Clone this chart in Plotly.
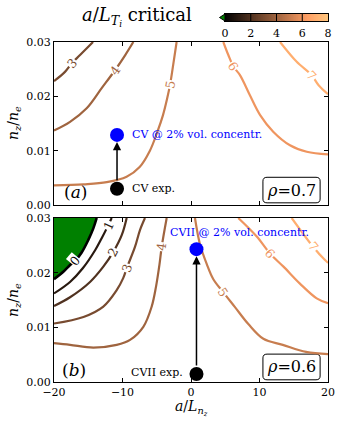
import numpy as np
import plotly.graph_objects as go

# ---------------- data ----------------
levels = [0, 1, 2, 3, 4, 5, 6, 7]

# panel (a), rho = 0.7 : contour lines of critical a/L_Ti
a3_x = [-20, -18.4, -17.4, -16.2, -14.3]
a3_y = [0.0228, 0.0245, 0.0261, 0.0276, 0.030]
a4_x = [-20, -17.66, -15.23, -13.04, -11.1, -9.6, -8.42]
a4_y = [0.0137, 0.0153, 0.0178, 0.0215, 0.0248, 0.0276, 0.030]
a5_x = [-20, -15.7, -12.3, -9.4, -7.5, -6.0, -4.9, -4.1, -3.5, -3.05, -2.6, -2.1]
a5_y = [0.0036, 0.0038, 0.0042, 0.0052, 0.0070, 0.0100, 0.0135, 0.0165, 0.0195, 0.0222, 0.0258, 0.030]
a6_x = [4.72, 5.45, 6.18, 7.15, 8.6, 10.07, 12.0, 14.45, 16.9, 20]
a6_y = [0.030, 0.0276, 0.0255, 0.0239, 0.0202, 0.0166, 0.0135, 0.011, 0.0098, 0.0093]
a7_x = [13.0, 15.4, 17.6, 18.6, 20]
a7_y = [0.030, 0.0264, 0.0239, 0.0221, 0.0204]

# panel (b), rho = 0.6
b0_x = [-20, -18.6, -17.66, -16.9, -15.96, -14.99, -14.26, -13.77]
b0_y = [0.0188, 0.0202, 0.0214, 0.0222, 0.0237, 0.026, 0.0281, 0.030]
b1_x = [-20, -17.66, -15.8, -14.0, -13.04, -12.07, -11.58]
b1_y = [0.0162, 0.0183, 0.0208, 0.0241, 0.0263, 0.0287, 0.030]
b2_x = [-20, -17.66, -14.74, -12.8, -11.34, -10.1, -9.39]
b2_y = [0.0139, 0.0155, 0.0183, 0.0211, 0.0238, 0.0269, 0.030]
b3_x = [-20, -15.7, -12.8, -10.85, -9.9, -9.39, -8.18, -7.45, -6.72]
b3_y = [0.0107, 0.0119, 0.0138, 0.0168, 0.019, 0.0208, 0.0247, 0.0278, 0.030]
b4_x = [-20, -17.66, -14.26, -10.85, -8.9, -6.96, -5.74, -5.1, -4.6, -4.28, -3.55]
b4_y = [0.0071, 0.0068, 0.0063, 0.0068, 0.0077, 0.0101, 0.0138, 0.0175, 0.0215, 0.0247, 0.030]
b5_x = [0.58, 1.31, 2.29, 3.26, 4.72, 6.42, 8.37, 10.56, 13.4, 16.8, 20]
b5_y = [0.030, 0.0252, 0.0216, 0.0188, 0.0164, 0.0137, 0.0106, 0.0079, 0.0068, 0.0055, 0.0051]
b6_x = [6.9, 9.6, 11.53, 13.5, 15.9, 18.35, 20]
b6_y = [0.030, 0.0266, 0.0235, 0.0211, 0.018, 0.0153, 0.0144]
b7_x = [14.7, 17.85, 19.56, 20]
b7_y = [0.030, 0.0247, 0.0223, 0.0218]

# contour label positions (level, x, y, angle)
a_labels = [(3, -17.4, 0.0261, -48), (4, -11.1, 0.0248, -55), (5, -3.05, 0.0222, -80),
            (6, 6.18, 0.0255, 58), (7, 17.6, 0.0239, 47)]
b_labels = [(0, -16.9, 0.0222, -50), (1, -12.07, 0.0287, -65), (2, -11.34, 0.0238, -62),
            (3, -9.39, 0.0208, -72), (4, -4.28, 0.0247, -82), (5, 4.72, 0.0164, 57),
            (6, 11.53, 0.0235, 48), (7, 17.85, 0.0247, 52)]

# impurity points
a_species = ["CV exp.", "CV @ 2% vol. concentr."]
a_pts_x = [-10.8, -10.8]
a_pts_y = [0.0030, 0.0129]
b_species = ["CVII exp.", "CVII @ 2% vol. concentr."]
b_pts_x = [0.8, 0.8]
b_pts_y = [0.00146, 0.0243]
rho_vals = [0.7, 0.6]

cbar_ticks = [0, 2, 4, 6, 8]
x_ticks = [-20, -10, 0, 10, 20]
y_ticks = [0, 0.01, 0.02, 0.03]

# ---------------- layout helpers (pixel -> paper) ----------------
W, H = 338, 421
ML, MR, MT, MB = 54, 10, 14, 39
PW, PH = W - ML - MR, H - MT - MB


def px(x):
    return (x - ML) / PW


def py(y):
    return (H - MB - y) / PH


def copper(v, vmax=8.0):
    t = v / vmax
    r = min(1.0, 1.25 * t)
    g = 0.7812 * t
    b = 0.4975 * t
    return "rgb(%d,%d,%d)" % (round(r * 255), round(g * 255), round(b * 255))


copper_scale = [[0, "rgb(0,0,0)"], [0.8, "rgb(255,159,101)"], [1, "rgb(255,199,127)"]]
SERIF = "DejaVu Serif"
fig = go.Figure()

# green region (below level 0) in panel b
fig.add_trace(go.Scatter(x=b0_x + [-20], y=b0_y + [0.030], mode="lines", fill="toself",
                         fillcolor="rgb(0,128,0)", line=dict(width=0), xaxis="x2", yaxis="y2",
                         hoverinfo="skip", showlegend=False))

a_lines = {3: (a3_x, a3_y), 4: (a4_x, a4_y), 5: (a5_x, a5_y), 6: (a6_x, a6_y), 7: (a7_x, a7_y)}
b_lines = {0: (b0_x, b0_y), 1: (b1_x, b1_y), 2: (b2_x, b2_y), 3: (b3_x, b3_y), 4: (b4_x, b4_y),
           5: (b5_x, b5_y), 6: (b6_x, b6_y), 7: (b7_x, b7_y)}

for lev, (xs, ys) in a_lines.items():
    fig.add_trace(go.Scatter(x=xs, y=ys, mode="lines", line=dict(color=copper(lev), width=2.2, shape="spline"),
                             xaxis="x", yaxis="y", showlegend=False, hoverinfo="skip"))
for lev, (xs, ys) in b_lines.items():
    fig.add_trace(go.Scatter(x=xs, y=ys, mode="lines",
                             line=dict(color=copper(lev), width=2.6 if lev == 0 else 2.2, shape="spline"),
                             xaxis="x2", yaxis="y2", showlegend=False, hoverinfo="skip"))

# impurity markers
for xs, ys, xa, ya in [(a_pts_x, a_pts_y, "x", "y"), (b_pts_x, b_pts_y, "x2", "y2")]:
    fig.add_trace(go.Scatter(x=xs, y=ys, mode="markers",
                             marker=dict(size=14, color=["black", "rgb(0,0,255)"], line=dict(width=0)),
                             xaxis=xa, yaxis=ya, showlegend=False, hoverinfo="skip"))

# colour bar drawn as a gradient strip on its own small axis
cb_vals = np.linspace(0, 8, 161)
fig.add_trace(go.Heatmap(x=cb_vals, y=[0], z=[cb_vals], zmin=0, zmax=8, colorscale=copper_scale,
                         showscale=False, xaxis="x3", yaxis="y3", hoverinfo="skip"))

annotations = []
for labels, xa, ya in [(a_labels, "x", "y"), (b_labels, "x2", "y2")]:
    for lev, lx, ly, ang in labels:
        annotations.append(dict(x=lx, y=ly, xref=xa, yref=ya, text=str(lev), showarrow=False,
                                textangle=ang, bgcolor="white", borderpad=0,
                                font=dict(family=SERIF, size=12.5,
                                          color="black" if lev == 0 else copper(lev))))

# arrows
for xs, ys, xa, ya in [(a_pts_x, a_pts_y, "x", "y"), (b_pts_x, b_pts_y, "x2", "y2")]:
    annotations.append(dict(x=xs[1], y=ys[1], ax=xs[0], ay=ys[0], xref=xa, yref=ya, axref=xa, ayref=ya,
                            text="", showarrow=True, arrowhead=2, arrowsize=1.1, arrowwidth=1.5,
                            arrowcolor="black", standoff=7, startstandoff=7))

P = dict(xref="paper", yref="paper", showarrow=False, xanchor="center", yanchor="middle")
annotations += [
    dict(x=-8.9, y=a_pts_y[0], xref="x", yref="y", text=a_species[0], showarrow=False, xanchor="left",
         font=dict(family=SERIF, size=11, color="black")),
    dict(x=-8.9, y=a_pts_y[1], xref="x", yref="y", text=a_species[1], showarrow=False, xanchor="left",
         font=dict(family=SERIF, size=11, color="rgb(0,0,255)")),
    dict(x=-0.9, y=b_pts_y[0], xref="x2", yref="y2", text=b_species[0], showarrow=False, xanchor="right",
         yshift=2, font=dict(family=SERIF, size=11, color="black")),
    dict(x=7.15, y=0.0273, xref="x2", yref="y2", text=b_species[1], showarrow=False, xanchor="center",
         font=dict(family=SERIF, size=11, color="rgb(0,0,255)")),
    dict(x=-16.8, y=0.0024, xref="x", yref="y", text="(<i>a</i>)", showarrow=False,
         font=dict(family=SERIF, size=17, color="black")),
    dict(x=-17.1, y=0.0022, xref="x2", yref="y2", text="(<i>b</i>)", showarrow=False,
         font=dict(family=SERIF, size=17, color="black")),
    dict(x=14.67, y=0.00276, xref="x", yref="y", text="<i>ρ</i>=%.1f" % rho_vals[0], showarrow=False,
         font=dict(family=SERIF, size=16, color="black")),
    dict(x=14.67, y=0.00276, xref="x2", yref="y2", text="<i>ρ</i>=%.1f" % rho_vals[1], showarrow=False,
         font=dict(family=SERIF, size=16, color="black")),
    dict(P, x=px(137), y=py(17), text="<i>a</i>/<i>L</i><sub><i>T<sub>i</sub></i></sub> critical",
         font=dict(family=SERIF, size=18, color="black")),
    dict(P, x=px(14), y=py(123), textangle=-90,
         text="<i>n<sub>z</sub></i>/<i>n<sub>e</sub></i>", font=dict(family=SERIF, size=14, color="black")),
    dict(P, x=px(14), y=py(300), textangle=-90,
         text="<i>n<sub>z</sub></i>/<i>n<sub>e</sub></i>", font=dict(family=SERIF, size=14, color="black")),
    dict(P, x=px(191), y=py(408),
         text="<i>a</i>/<i>L<sub>n<sub>z</sub></sub></i>", font=dict(family=SERIF, size=14, color="black")),
]


def rounded_box(x0, x1, y0, y1, rx, ry):
    return ("M %f,%f L %f,%f Q %f,%f %f,%f L %f,%f Q %f,%f %f,%f L %f,%f Q %f,%f %f,%f L %f,%f Q %f,%f %f,%f Z" %
            (x0 + rx, y0, x1 - rx, y0, x1, y0, x1, y0 + ry, x1, y1 - ry, x1, y1, x1 - rx, y1,
             x0 + rx, y1, x0, y1, x0, y1 - ry, x0, y0 + ry, x0, y0, x0 + rx, y0))


shapes = []
for xa, ya in [("x", "y"), ("x2", "y2")]:
    shapes.append(dict(type="path", xref=xa, yref=ya,
                       path=rounded_box(10.5, 18.85, 0.0004, 0.0051, 0.6, 0.0007),
                       line=dict(color="black", width=1), fillcolor="white", layer="below"))

for v in [2, 4, 6]:
    shapes.append(dict(type="line", xref="x3", yref="y3 domain", x0=v, x1=v, y0=0, y1=1,
                       line=dict(color="black", width=1)))
shapes.append(dict(type="path", xref="paper", yref="paper",
                   path="M %f,%f L %f,%f L %f,%f Z" % (px(225), py(14), px(219.5), py(17.5), px(225), py(21)),
                   fillcolor="rgb(0,128,0)", line=dict(color="black", width=1)))

axis_common = dict(showline=True, mirror="ticks", linecolor="black", linewidth=1, ticks="inside",
                   ticklen=4, tickcolor="black", showgrid=False, zeroline=False, automargin=False,
                   tickfont=dict(family=SERIF, size=11, color="black"))

fig.update_layout(
    template="none",
    width=W, height=H, margin=dict(l=ML, r=MR, t=MT, b=MB),
    plot_bgcolor="white", paper_bgcolor="white", showlegend=False,
    xaxis=dict(axis_common, range=[-20, 20], tickvals=x_ticks, showticklabels=False, anchor="y"),
    yaxis=dict(axis_common, range=[0, 0.03], tickvals=y_ticks, tickformat=".2f",
               domain=[py(205), py(42)], anchor="x"),
    xaxis2=dict(axis_common, range=[-20, 20], tickvals=x_ticks, anchor="y2"),
    yaxis2=dict(axis_common, range=[0, 0.03], tickvals=y_ticks, tickformat=".2f",
                domain=[0, py(218)], anchor="x2"),
    xaxis3=dict(domain=[px(225), px(328)], range=[0, 8], anchor="y3", tickvals=cbar_ticks, ticks="",
                showline=True, mirror=True, linecolor="black", linewidth=1, showgrid=False, zeroline=False,
                automargin=False, ticklabelstandoff=2,
                tickfont=dict(family=SERIF, size=11, color="black")),
    yaxis3=dict(domain=[py(21), py(14)], range=[-0.5, 0.5], anchor="x3", showticklabels=False, ticks="",
                showline=True, mirror=True, linecolor="black", linewidth=1, showgrid=False, zeroline=False,
                automargin=False),
    annotations=annotations, shapes=shapes,
)

fig.write_html("out.html", config={"displayModeBar": False},
               post_script="document.body.style.margin='0';document.body.style.overflow='hidden';")
